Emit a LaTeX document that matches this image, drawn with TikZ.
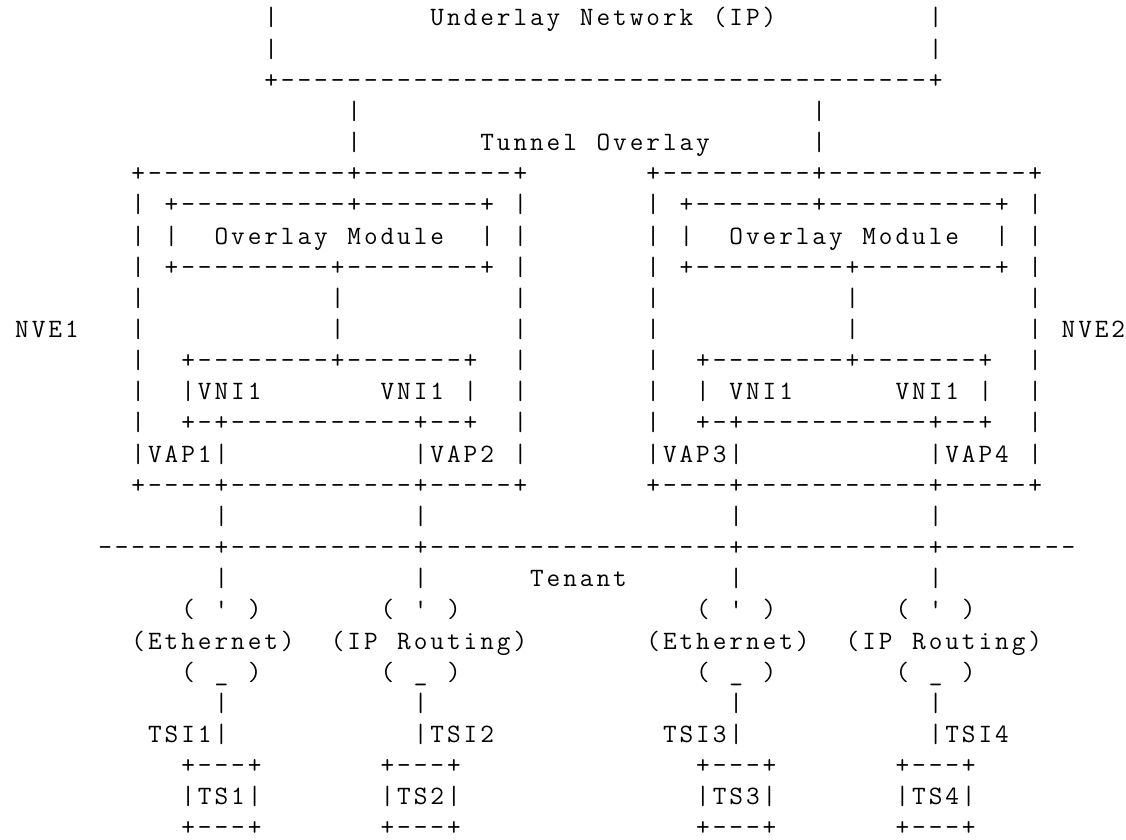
\documentclass[tikz,border=0pt]{standalone}
\tikzset{
  ch/.style={inner sep=0pt, outer sep=0pt, anchor=base, text=black,
    font=\ttfamily\fontsize{26.5pt}{30pt}\selectfont}
}
% one character in the cell of row #1, column #2
\newcommand\placech[3]{\node[ch] (c#1-#2) at ({22.03+16.61*#2},{813-31.15*#1}) {#3};}
% a run of characters ('.' = blank cell) starting at row #1, column #2
\newcommand\asword[3]{\def\awrow{#1}\def\awcol{#2}\awloop#3\relax}
\def\awloop#1{%
  \ifx#1\relax\else
    \ifx#1.\else\placech{\awrow}{\awcol}{#1}\fi
    \edef\awcol{\the\numexpr\awcol+1\relax}%
    \expandafter\awloop
  \fi}
% a run of dashes in row #1 from column #2 to #3
\newcommand\dashseg[3]{\foreach \k in {#2,...,#3}{\placech{#1}{\k}{-}}}
\begin{document}
\begin{tikzpicture}[x=1pt,y=1pt]
\useasboundingbox (0,0) rectangle (1126,839);
\fill[white] (0,0) rectangle (1126,839);
% row 0-2: underlay network
\asword{0}{15}{|}\asword{0}{25}{Underlay.Network.(IP)}\asword{0}{55}{|}
\asword{1}{15}{|}\asword{1}{55}{|}
\asword{2}{15}{+}\dashseg{2}{16}{54}\asword{2}{55}{+}
% rows 3-4: tunnel overlay
\asword{3}{20}{|}\asword{3}{48}{|}
\asword{4}{20}{|}\asword{4}{28}{Tunnel.Overlay}\asword{4}{48}{|}
% row 5
\asword{5}{7}{+}\dashseg{5}{8}{19}\asword{5}{20}{+}\dashseg{5}{21}{29}\asword{5}{30}{+}
\asword{5}{38}{+}\dashseg{5}{39}{47}\asword{5}{48}{+}\dashseg{5}{49}{60}\asword{5}{61}{+}
% row 6
\asword{6}{7}{|}\asword{6}{9}{+}\dashseg{6}{10}{19}\asword{6}{20}{+}\dashseg{6}{21}{27}\asword{6}{28}{+}\asword{6}{30}{|}
\asword{6}{38}{|}\asword{6}{40}{+}\dashseg{6}{41}{47}\asword{6}{48}{+}\dashseg{6}{49}{58}\asword{6}{59}{+}\asword{6}{61}{|}
% row 7
\asword{7}{7}{|}\asword{7}{9}{|}\asword{7}{12}{Overlay.Module}\asword{7}{28}{|}\asword{7}{30}{|}
\asword{7}{38}{|}\asword{7}{40}{|}\asword{7}{43}{Overlay.Module}\asword{7}{59}{|}\asword{7}{61}{|}
% row 8
\asword{8}{7}{|}\asword{8}{9}{+}\dashseg{8}{10}{18}\asword{8}{19}{+}\dashseg{8}{20}{27}\asword{8}{28}{+}\asword{8}{30}{|}
\asword{8}{38}{|}\asword{8}{40}{+}\dashseg{8}{41}{49}\asword{8}{50}{+}\dashseg{8}{51}{58}\asword{8}{59}{+}\asword{8}{61}{|}
% rows 9-10
\asword{9}{7}{|}\asword{9}{19}{|}\asword{9}{30}{|}\asword{9}{38}{|}\asword{9}{50}{|}\asword{9}{61}{|}
\asword{10}{0}{NVE1}
\asword{10}{7}{|}\asword{10}{19}{|}\asword{10}{30}{|}\asword{10}{38}{|}\asword{10}{50}{|}\asword{10}{61}{|}
\asword{10}{63}{NVE2}
% row 11
\asword{11}{7}{|}\asword{11}{10}{+}\dashseg{11}{11}{18}\asword{11}{19}{+}\dashseg{11}{20}{26}\asword{11}{27}{+}\asword{11}{30}{|}
\asword{11}{38}{|}\asword{11}{41}{+}\dashseg{11}{42}{49}\asword{11}{50}{+}\dashseg{11}{51}{57}\asword{11}{58}{+}\asword{11}{61}{|}
% row 12
\asword{12}{7}{|}\asword{12}{10}{|VNI1}\asword{12}{22}{VNI1.|}\asword{12}{30}{|}
\asword{12}{38}{|}\asword{12}{41}{|.VNI1}\asword{12}{53}{VNI1.|}\asword{12}{61}{|}
% row 13
\asword{13}{7}{|}\asword{13}{10}{+-+}\dashseg{13}{13}{23}\asword{13}{24}{+--+}\asword{13}{30}{|}
\asword{13}{38}{|}\asword{13}{41}{+-+}\dashseg{13}{44}{54}\asword{13}{55}{+--+}\asword{13}{61}{|}
% row 14
\asword{14}{7}{|VAP1|}\asword{14}{24}{|VAP2.|}
\asword{14}{38}{|VAP3|}\asword{14}{55}{|VAP4.|}
% row 15
\asword{15}{7}{+----+}\dashseg{15}{13}{23}\asword{15}{24}{+-----+}
\asword{15}{38}{+----+}\dashseg{15}{44}{54}\asword{15}{55}{+-----+}
% row 16
\asword{16}{12}{|}\asword{16}{24}{|}\asword{16}{43}{|}\asword{16}{55}{|}
% row 17: tenant line
\dashseg{17}{5}{11}\asword{17}{12}{+}\dashseg{17}{13}{23}\asword{17}{24}{+}\dashseg{17}{25}{42}
\asword{17}{43}{+}\dashseg{17}{44}{54}\asword{17}{55}{+}\dashseg{17}{56}{63}
% row 18
\asword{18}{12}{|}\asword{18}{24}{|}\asword{18}{31}{Tenant}\asword{18}{43}{|}\asword{18}{55}{|}
% rows 19-21: clouds
\asword{19}{10}{(.\textquotesingle.)}\asword{19}{22}{(.\textquotesingle.)}
\asword{19}{41}{(.\textquotesingle.)}\asword{19}{53}{(.\textquotesingle.)}
\asword{20}{7}{(Ethernet)}\asword{20}{19}{(IP.Routing)}
\asword{20}{38}{(Ethernet)}\asword{20}{50}{(IP.Routing)}
\asword{21}{10}{(.\_.)}\asword{21}{22}{(.\_.)}\asword{21}{41}{(.\_.)}\asword{21}{53}{(.\_.)}
% row 22
\asword{22}{12}{|}\asword{22}{24}{|}\asword{22}{43}{|}\asword{22}{55}{|}
% row 23
\asword{23}{8}{TSI1|}\asword{23}{24}{|TSI2}\asword{23}{39}{TSI3|}\asword{23}{55}{|TSI4}
% rows 24-26: tenant systems
\asword{24}{10}{+---+}\asword{24}{22}{+---+}\asword{24}{41}{+---+}\asword{24}{53}{+---+}
\asword{25}{10}{|TS1|}\asword{25}{22}{|TS2|}\asword{25}{41}{|TS3|}\asword{25}{53}{|TS4|}
\asword{26}{10}{+---+}\asword{26}{22}{+---+}\asword{26}{41}{+---+}\asword{26}{53}{+---+}
\end{tikzpicture}
\end{document}
